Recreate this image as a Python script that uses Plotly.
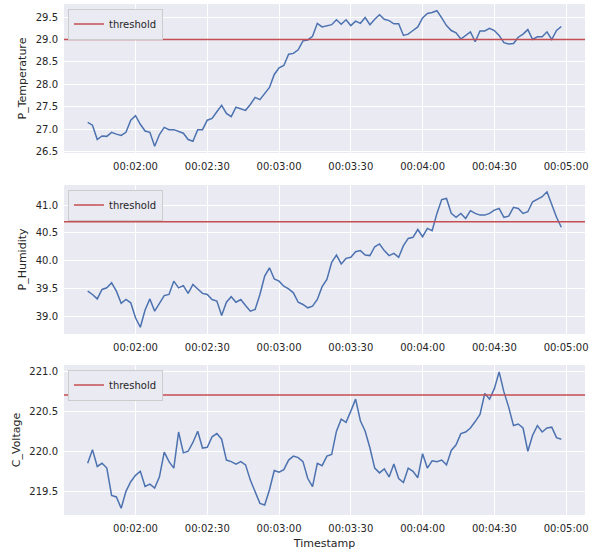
import pandas as pd
import plotly.graph_objects as go
from plotly.subplots import make_subplots

# Sensor readings sampled every 2 s, starting at 00:01:40
start_time = "1970-01-01 00:01:40"
sample_step = "2s"

temperature = [
    27.15, 27.09, 26.77, 26.85, 26.84, 26.93, 26.89, 26.86, 26.93, 27.20,
    27.30, 27.11, 26.96, 26.93, 26.62, 26.88, 27.04, 26.99, 26.99, 26.95,
    26.91, 26.77, 26.73, 26.99, 26.99, 27.20, 27.24, 27.39, 27.53, 27.35,
    27.28, 27.49, 27.46, 27.42, 27.55, 27.71, 27.66, 27.79, 27.93, 28.22,
    28.37, 28.42, 28.67, 28.69, 28.77, 28.97, 28.99, 29.07, 29.36, 29.28,
    29.31, 29.33, 29.44, 29.34, 29.44, 29.31, 29.41, 29.36, 29.49, 29.33,
    29.45, 29.55, 29.45, 29.42, 29.35, 29.35, 29.09, 29.12, 29.20, 29.28,
    29.48, 29.58, 29.60, 29.64, 29.48, 29.31, 29.20, 29.15, 29.01, 29.09,
    29.17, 28.95, 29.19, 29.19, 29.25, 29.20, 29.09, 28.93, 28.90, 28.91,
    29.05, 29.12, 29.22, 29.00, 29.06, 29.06, 29.17, 29.00, 29.20, 29.29,
]

humidity = [
    39.45, 39.39, 39.31, 39.48, 39.51, 39.60, 39.45, 39.23, 39.30, 39.24,
    38.97, 38.80, 39.11, 39.31, 39.09, 39.23, 39.37, 39.39, 39.63, 39.51,
    39.55, 39.41, 39.57, 39.49, 39.41, 39.39, 39.30, 39.27, 39.01, 39.25,
    39.35, 39.25, 39.30, 39.19, 39.09, 39.12, 39.39, 39.72, 39.87, 39.67,
    39.63, 39.54, 39.49, 39.42, 39.25, 39.21, 39.15, 39.18, 39.30, 39.53,
    39.66, 39.97, 40.10, 39.94, 40.04, 40.06, 40.16, 40.18, 40.10, 40.09,
    40.25, 40.30, 40.18, 40.09, 40.13, 40.06, 40.27, 40.40, 40.42, 40.56,
    40.43, 40.58, 40.54, 40.85, 41.10, 41.12, 40.85, 40.78, 40.85, 40.76,
    40.90, 40.85, 40.82, 40.82, 40.85, 40.91, 40.94, 40.78, 40.80, 40.96,
    40.94, 40.85, 40.88, 41.06, 41.10, 41.15, 41.24, 41.00, 40.78, 40.60,
]

voltage = [
    219.85, 220.02, 219.81, 219.85, 219.79, 219.45, 219.43, 219.29, 219.50, 219.62,
    219.70, 219.75, 219.56, 219.59, 219.54, 219.68, 219.99, 219.87, 219.79, 220.24,
    219.98, 220.00, 220.11, 220.25, 220.04, 220.05, 220.18, 220.22, 220.15, 219.89,
    219.87, 219.84, 219.87, 219.83, 219.64, 219.49, 219.35, 219.33, 219.52, 219.76,
    219.74, 219.77, 219.89, 219.94, 219.92, 219.87, 219.66, 219.56, 219.85, 219.82,
    219.94, 219.96, 220.25, 220.40, 220.36, 220.50, 220.65, 220.38, 220.25, 220.04,
    219.79, 219.73, 219.78, 219.68, 219.84, 219.66, 219.61, 219.79, 219.75, 219.67,
    219.97, 219.79, 219.88, 219.87, 219.89, 219.83, 220.01, 220.08, 220.22, 220.24,
    220.29, 220.37, 220.46, 220.72, 220.65, 220.78, 220.99, 220.74, 220.55, 220.32,
    220.34, 220.29, 220.00, 220.20, 220.32, 220.24, 220.29, 220.30, 220.17, 220.15,
]

series_names = ["P_Temperature", "P_Humidity", "C_Voltage"]
series_values = [temperature, humidity, voltage]
thresholds = [29.0, 40.7, 220.7]

timestamps = pd.date_range(start_time, periods=len(temperature), freq=sample_step)

LINE_BLUE = "#4C72B0"
LINE_RED = "#C44E52"
PANEL_BG = "#EAEAF2"
TEXT = "#262626"
FONT = "DejaVu Sans"


def padded(lo, hi, frac=0.05):
    span = hi - lo
    return lo - span * frac, hi + span * frac


# x range with 5% padding around the data span
t0, t1 = timestamps[0], timestamps[-1]
pad = (t1 - t0) * 0.05
x_range = [t0 - pad, t1 + pad]

# subplot vertical domains (paper fractions)
domains = [(0.7084, 1.0), (0.3542, 0.6458), (0.0, 0.2935)]

fig = make_subplots(rows=3, cols=1)

for i, (name, vals, thr) in enumerate(zip(series_names, series_values, thresholds)):
    row = i + 1
    legend_id = "legend" if i == 0 else f"legend{i + 1}"
    fig.add_trace(
        go.Scatter(
            x=timestamps, y=vals, mode="lines",
            line=dict(color=LINE_BLUE, width=1.5),
            showlegend=False, hoverinfo="x+y",
        ),
        row=row, col=1,
    )
    fig.add_hline(
        y=thr, line=dict(color=LINE_RED, width=1.5),
        row=row, col=1, layer="above",
        showlegend=True, name="threshold", legend=legend_id,
    )
    lo, hi = padded(min(min(vals), thr), max(max(vals), thr))
    yax = "yaxis" if i == 0 else f"yaxis{i + 1}"
    xax = "xaxis" if i == 0 else f"xaxis{i + 1}"
    fig.layout[yax].update(
        domain=list(domains[i]), range=[lo, hi],
        title=dict(text=name, font=dict(size=11, color=TEXT, family=FONT), standoff=6),
        tick0=0, dtick=0.5, tickformat=".1f",
        gridcolor="white", gridwidth=1, zeroline=False, showline=False,
        ticks="", ticklabelstandoff=5, ticklabeloverflow="allow",
        tickfont=dict(size=10, color=TEXT, family=FONT),
    )
    fig.layout[xax].update(
        type="date", range=x_range,
        tick0="1970-01-01 00:00:00", dtick=30000, tickformat="%H:%M:%S",
        gridcolor="white", gridwidth=1, zeroline=False, showline=False,
        ticks="", ticklabelstandoff=6, ticklabeloverflow="allow",
        tickfont=dict(size=10, color=TEXT, family=FONT),
    )
    legend_cfg = dict(
        x=0.0076, y=domains[i][1] - 0.009, xanchor="left", yanchor="top",
        bgcolor=PANEL_BG, bordercolor="#CCCCCC", borderwidth=1,
        font=dict(size=10, color=TEXT, family=FONT),
        itemwidth=30, tracegroupgap=0,
    )
    fig.layout[legend_id] = legend_cfg

fig.layout["xaxis3"].title = dict(
    text="Timestamp", font=dict(size=11, color=TEXT, family=FONT), standoff=6
)

fig.update_layout(
    width=590, height=556,
    margin=dict(l=64, r=2, t=4, b=41),
    paper_bgcolor="white", plot_bgcolor=PANEL_BG,
    font=dict(family=FONT, color=TEXT),
)

fig.write_html("out.html")
